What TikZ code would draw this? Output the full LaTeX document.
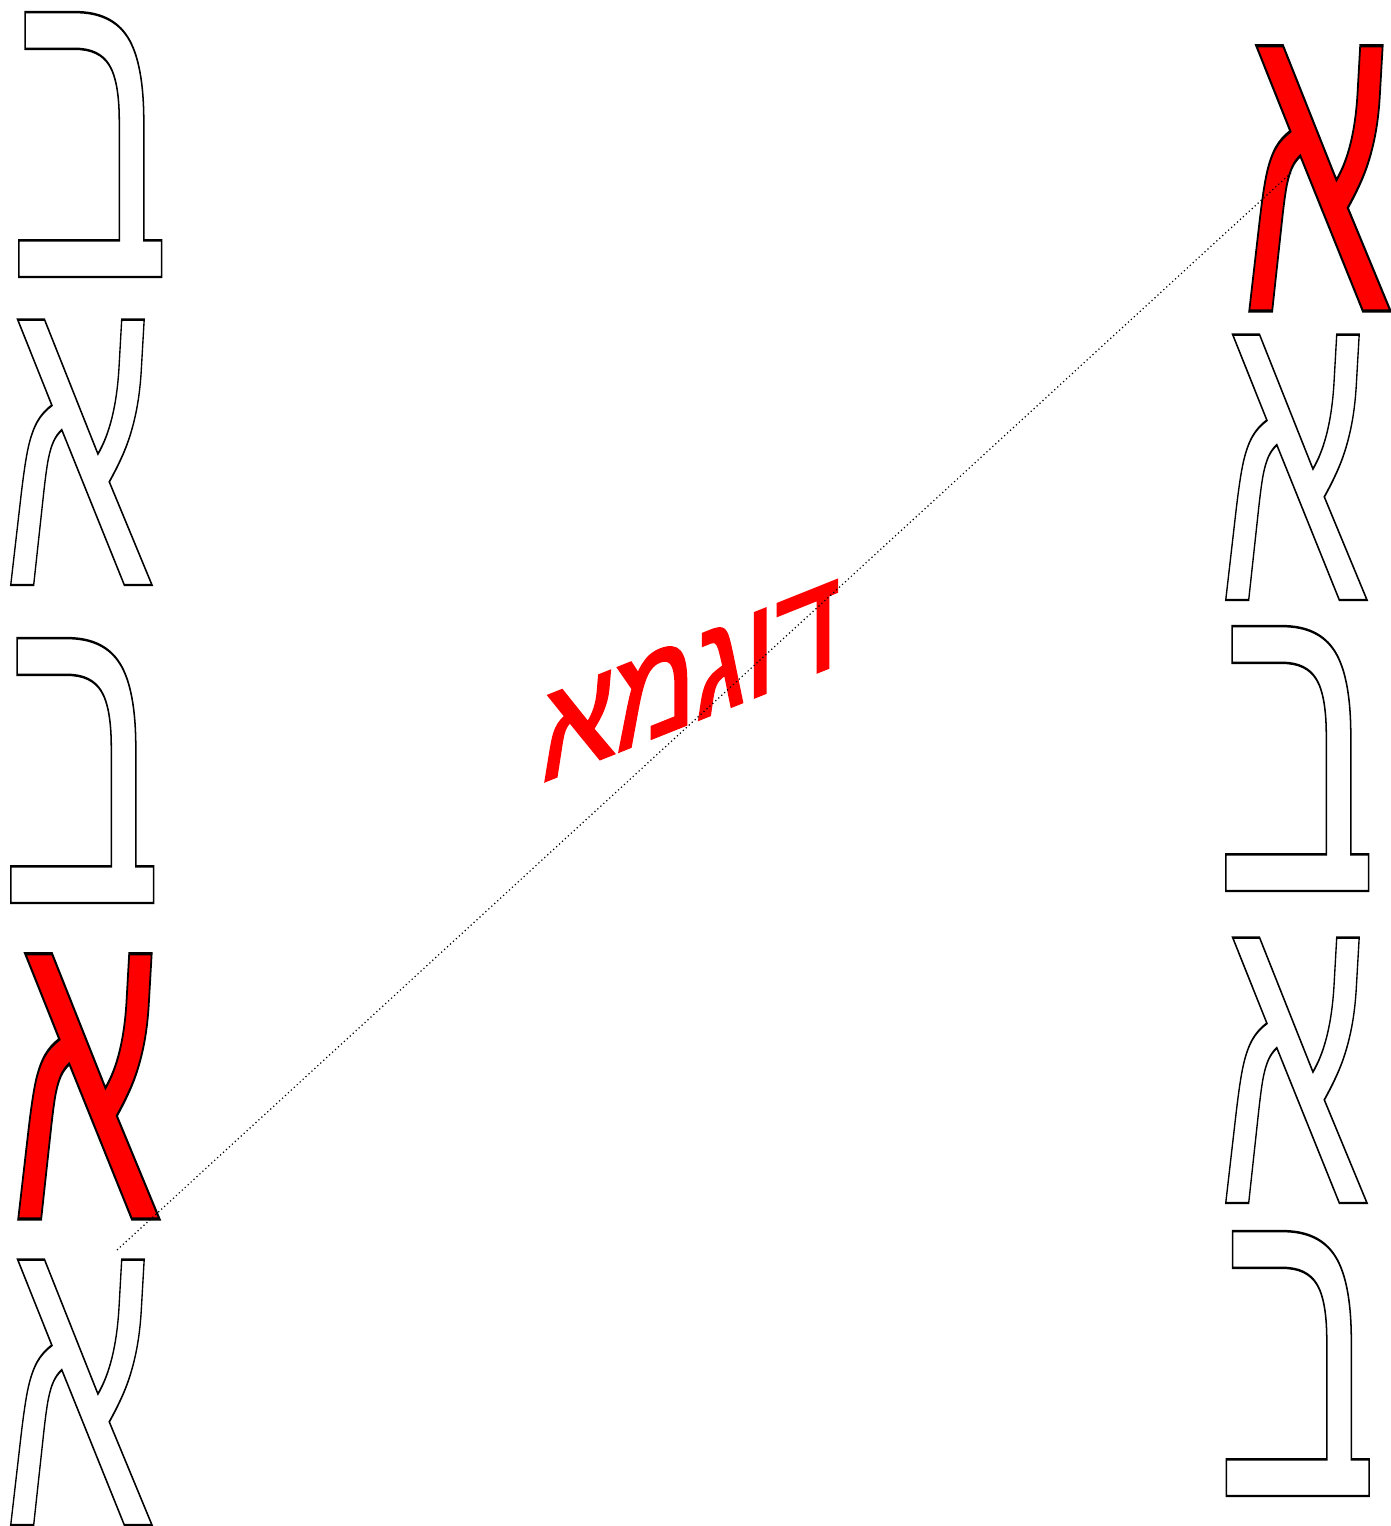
\documentclass[tikz,border=0pt]{standalone}
\usepackage{fontspec}
\TeXXeTstate=1
\newfontfamily\hebfont[Script=Hebrew]{Liberation Sans}
\newcommand\outlw[1]{{\color{white}\special{pdf:literal direct 2 Tr 2 w 0 G}#1\special{pdf:literal direct 0 Tr}}}
\newcommand\outlr[1]{{\color{red}\special{pdf:literal direct 2 Tr 2.6 w 0 G}#1\special{pdf:literal direct 0 Tr}}}
\newcommand\boldred[1]{{\color{red}\special{pdf:literal direct 2 Tr 2.2 w 1 0 0 RG}#1\special{pdf:literal direct 0 Tr}}}
\newcommand\alefw{\scalebox{0.673}[1.23]{\outlw{א}}}
\newcommand\alefr{\scalebox{0.673}[1.23]{\outlr{א}}}
\newcommand\betw{\scalebox{0.758}[1.228]{\outlw{ב}}}
\begin{document}
\begin{tikzpicture}[x=1pt,y=1pt]
\useasboundingbox (0,0) rectangle (1391,1526);
\tikzset{
  glyph/.style={inner sep=0pt, outer sep=0pt, anchor=base, font=\hebfont\fontsize{360}{360}\selectfont},
}
% left column
\node[glyph] (l1) at (89.5,1249) {\betw};
\node[glyph] (l2) at (79,941) {\alefw};
\node[glyph] (l3) at (81.5,623) {\betw};
\node[glyph] (l4) at (86.5,307) {\alefr};
\node[glyph] (l5) at (79,1) {\alefw};
% right column
\node[glyph] (r1) at (1317.5,1215) {\alefr};
\node[glyph] (r2) at (1294,926) {\alefw};
\node[glyph] (r3) at (1296.5,635) {\betw};
\node[glyph] (r4) at (1294,323) {\alefw};
\node[glyph] (r5) at (1297,30) {\betw};
% word
\begin{scope}[shift={(691,846)}, yslant=0.4, yscale=1.2]
\node[transform shape, inner sep=0pt, font=\hebfont\fontsize{117}{117}\selectfont] (word) at (0,0) {\boldred{\beginR דוגמא\endR}};
\end{scope}
% connector
\coordinate (ca) at (117,276);
\coordinate (cb) at (1292,1354);
\draw[line width=1.2pt, dash pattern=on 1.2pt off 2.8pt] (ca) -- (cb);
\end{tikzpicture}
\end{document}
